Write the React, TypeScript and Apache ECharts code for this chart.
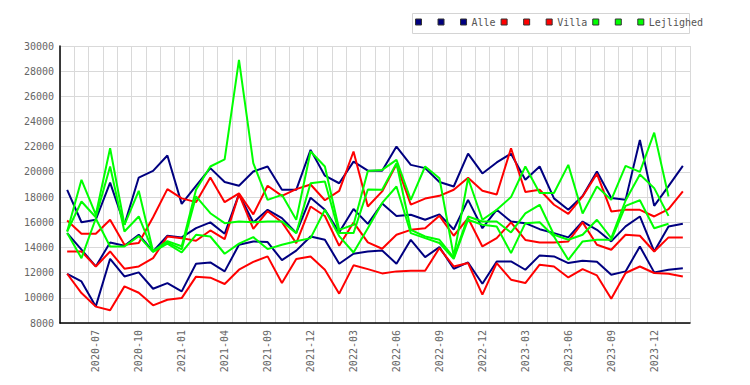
import React, { useEffect, useRef } from "react";
import * as echarts from "echarts";

const months = [
  "2020-05", "2020-06", "2020-07", "2020-08", "2020-09", "2020-10", "2020-11", "2020-12",
  "2021-01", "2021-02", "2021-03", "2021-04", "2021-05", "2021-06",
  "2021-09", "2021-10", "2021-11", "2021-12",
  "2022-01", "2022-02", "2022-03", "2022-04", "2022-05", "2022-06", "2022-07", "2022-08", "2022-09",
  "2022-10", "2022-11", "2022-12",
  "2023-01", "2023-02", "2023-03", "2023-04", "2023-05", "2023-06", "2023-07", "2023-08", "2023-09",
  "2023-10", "2023-11", "2023-12",
  "2024-01", "2024-02",
];

const alleMax = [18570, 16000, 16200, 19150, 15800, 19550, 20080, 21300, 17460, 18900, 20300, 19200, 18900, 20030, 20430, 18580, 18580, 21750, 19700, 19100, 20820, 20100, 20100, 22010, 20560, 20300, 19200, 18840, 21450, 19880, 20750, 21450, 19370, 20430, 17900, 16990, 18080, 20030, 17920, 17780, 22540, 17300, 18870, 20480];
const alleMid = [15140, 13820, 12490, 14400, 14130, 15010, 13680, 14930, 14800, 15530, 15990, 15090, 18230, 15980, 16990, 16330, 15160, 17950, 17000, 15200, 17050, 15870, 17490, 16500, 16600, 16200, 16630, 15430, 17780, 15530, 16990, 16060, 15930, 15450, 15140, 14800, 16060, 15400, 14480, 15670, 16460, 13680, 15670, 15880];
const alleMin = [11910, 11300, 9320, 13100, 11700, 12020, 10720, 11170, 10510, 12710, 12810, 12100, 14210, 14480, 14430, 12990, 13750, 14870, 14610, 12710, 13500, 13680, 13760, 12710, 14610, 13230, 14030, 12310, 12810, 11120, 12890, 12890, 12230, 13370, 13290, 12760, 12950, 12870, 11830, 12100, 14080, 12020, 12230, 12340];

const villaMax = [16140, 15090, 15090, 16200, 14210, 14350, 16400, 18630, 17900, 17600, 19560, 17600, 18300, 16630, 18900, 18100, 18630, 19000, 17750, 18500, 21620, 17250, 18450, 20600, 17400, 17880, 18100, 18580, 19530, 18500, 18200, 21880, 18400, 18580, 17390, 16670, 18050, 19850, 16860, 16990, 16990, 16460, 17040, 18450];
const villaMid = [13680, 13680, 12490, 13680, 12310, 12490, 13150, 14870, 14740, 14530, 15350, 14660, 18230, 15480, 16880, 16000, 14340, 17250, 16500, 14130, 15990, 14400, 13900, 15010, 15400, 15530, 16510, 14930, 16330, 14080, 14740, 15990, 14600, 14400, 14400, 14480, 15990, 14210, 13820, 15010, 14930, 13680, 14800, 14800];
const villaMin = [11910, 10380, 9300, 9020, 10910, 10400, 9400, 9850, 9980, 11680, 11600, 11100, 12230, 12850, 13290, 11170, 13080, 13290, 12230, 10330, 12580, 12280, 11940, 12100, 12150, 12150, 13950, 12490, 12760, 10250, 12760, 11440, 11170, 12630, 12490, 11620, 12280, 11780, 9930, 11970, 12490, 11970, 11910, 11700];

const lejMax = [15270, 19370, 16600, 21880, 15800, 18500, 13700, 14500, 14100, 18580, 20430, 21000, 28890, 20690, 17780, 18180, 16200, 21620, 20430, 15400, 15800, 20080, 20160, 20960, 17780, 20430, 19500, 13300, 19500, 16200, 16990, 18000, 20430, 18320, 18320, 20560, 16700, 18840, 17780, 20480, 20000, 23120, 18050, null];
const lejMid = [15270, 17650, 16400, 20430, 15270, 16460, 13680, 14400, 13850, 18050, 16720, 15930, 16060, 16000, 16070, 16070, 15140, 19100, 19240, 15140, 15140, 18600, 18580, 20690, 15400, 14870, 14610, 13200, 16460, 16060, 16060, 15190, 16700, 17390, 15010, 14610, 15010, 16200, 14740, 17730, 19800, 18710, 16510, null];
const lejMin = [15140, 13150, 16300, 14080, 14080, 14900, 13650, 14300, 13600, 15000, 14870, 13500, 14300, 14820, 13870, 14220, 14500, 14740, 16990, 14900, 13600, 15530, 17540, 18840, 15140, 14740, 14350, 13100, 16200, 15800, 15670, 13550, 15930, 16000, 14870, 13020, 14480, 14610, 14610, 17300, 17750, 15530, 15880, null];

const yMin = 8000;
const yMax = 30000;
const yStep = 2000;

const NAVY = "#000080";
const RED = "#ff0000";
const GREEN = "#00ff00";
const MONO = "DejaVu Sans Mono";

const seriesDefs = [
  { name: "_a1", color: NAVY, data: alleMax },
  { name: "_a2", color: NAVY, data: alleMid },
  { name: "Alle", color: NAVY, data: alleMin },
  { name: "_v1", color: RED, data: villaMax },
  { name: "_v2", color: RED, data: villaMid },
  { name: "Villa", color: RED, data: villaMin },
  { name: "_l1", color: GREEN, data: lejMax },
  { name: "_l2", color: GREEN, data: lejMid },
  { name: "Lejlighed", color: GREEN, data: lejMin },
];

export default function App() {
  const ref = useRef<HTMLDivElement>(null);
  useEffect(() => {
    if (!ref.current) return;
    const chart = echarts.init(ref.current, undefined, { renderer: "svg" });
    chart.setOption({
      animation: false,
      backgroundColor: "#ffffff",
      grid: { left: 60, right: 60, top: 46, bottom: 62 },
      legend: {
        left: 415,
        top: 17,
        padding: 0,
        icon: "rect",
        itemWidth: 6,
        itemHeight: 6,
        itemGap: 5,
        itemStyle: { borderColor: "#333", borderWidth: 1 },
        data: seriesDefs.map((s) => s.name),
        formatter: (name: string) => (name.startsWith("_") ? " " : name),
        textStyle: { fontFamily: MONO, fontSize: 10, color: "#555" },
        selectedMode: false,
      },
      graphic: [
        {
          type: "rect",
          shape: { x: 412.5, y: 13.5, width: 277, height: 20 },
          style: { fill: "none", stroke: "#d4d4d4", lineWidth: 1 },
          silent: true,
        },
      ],
      xAxis: {
        type: "category",
        data: months,
        boundaryGap: true,
        axisLine: { show: true, lineStyle: { color: "#000", width: 1.5 } },
        axisTick: { show: false },
        splitLine: { show: true, interval: 0, lineStyle: { color: "#d9d9d9", width: 1 } },
        axisLabel: {
          rotate: 90,
          interval: (index: number) => index % 3 === 2,
          margin: 7,
          fontFamily: MONO,
          fontSize: 10,
          color: "#666",
        },
      },
      yAxis: {
        type: "value",
        min: yMin,
        max: yMax,
        interval: yStep,
        axisLine: { show: true, lineStyle: { color: "#000", width: 1.5 } },
        axisTick: { show: false },
        splitLine: { show: true, lineStyle: { color: "#d9d9d9", width: 1 } },
        axisLabel: {
          margin: 6,
          fontFamily: MONO,
          fontSize: 10,
          color: "#666",
          formatter: (v: number) => String(v),
        },
      },
      series: seriesDefs.map((s) => ({
        name: s.name,
        type: "line",
        data: s.data,
        showSymbol: false,
        symbol: "none",
        color: s.color,
        itemStyle: { color: s.color },
        lineStyle: { color: s.color, width: 2 },
      })),
    });
    return () => chart.dispose();
  }, []);
  return (
    <div
      ref={ref}
      style={{ position: "fixed", left: 0, top: 0, width: 750, height: 385, background: "#fff" }}
    />
  );
}
